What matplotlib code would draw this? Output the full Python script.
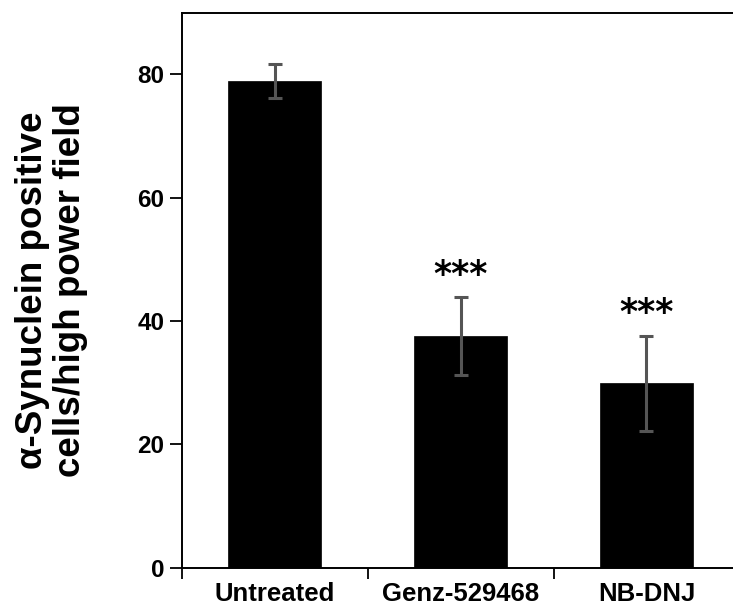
import matplotlib
matplotlib.use("Agg")
import matplotlib.pyplot as plt
import numpy as np

categories = ["Untreated", "Genz-529468", "NB-DNJ"]
means = [78.9, 37.6, 29.9]
errors = [2.8, 6.3, 7.7]
stars = ["", "***", "***"]
ylabel = "α-Synuclein positive\ncells/high power field"

plt.rcParams['font.family'] = ['Liberation Sans', 'DejaVu Sans']
plt.rcParams['font.weight'] = 'bold'

fig = plt.figure(figsize=(7.33, 6.11), dpi=100)
ax = fig.add_axes([0.2483, 0.0709, 1.0087 - 0.2483, 0.9792 - 0.0709])

x = np.arange(len(categories))
ax.bar(x, means, width=0.5, color='black', edgecolor='black', linewidth=0.5, zorder=2)
ax.errorbar(x, means, yerr=errors, fmt='none', ecolor='#555555', elinewidth=2.2,
            capsize=5, capthick=2.2, zorder=3)

for xi, m, e, s in zip(x, means, errors, stars):
    if s:
        ax.text(xi, m + e + 2.0, s, ha='center', va='baseline', fontsize=25,
                fontweight='bold', family='DejaVu Sans', color='black')

ax.set_xlim(-0.5, 2.5)
ax.set_ylim(0, 90)
ax.set_yticks([0, 20, 40, 60, 80])
ax.tick_params(axis='y', direction='out', length=8.6, width=1.3, pad=4, labelsize=17.5)

# boundary ticks without labels, category names on minor ticks
ax.set_xticks([-0.5, 0.5, 1.5])
ax.set_xticklabels([])
ax.set_xticks(x, minor=True)
ax.set_xticklabels(categories, minor=True, fontsize=18.5, fontweight='bold')
ax.tick_params(axis='x', which='major', direction='out', length=8, width=1.3)
ax.tick_params(axis='x', which='minor', length=0, pad=10)

for side in ['left', 'bottom', 'top']:
    ax.spines[side].set_linewidth(1.4)
ax.spines['right'].set_visible(False)

fig.text(0.0703, 0.525, ylabel, rotation=90, ha='center', va='center',
         fontsize=26.5, fontweight='bold', multialignment='center', linespacing=1.1)

fig.savefig("out.png", dpi=100)
